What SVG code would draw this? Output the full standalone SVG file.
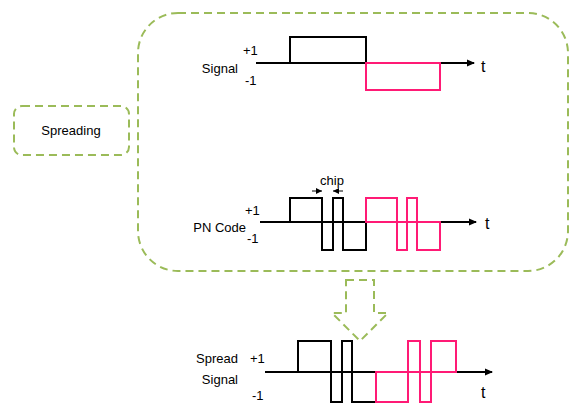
<svg xmlns="http://www.w3.org/2000/svg" width="570" height="403" viewBox="0 0 570 403">
<style>
.dash{fill:none;stroke:#9BBB59;stroke-width:2;stroke-dasharray:8,5}
.ax{fill:none;stroke:#000;stroke-width:2}
.bk{fill:none;stroke:#000;stroke-width:2}
.pk{fill:none;stroke:#FF1A75;stroke-width:2}
text{font-family:"Liberation Sans",Arial,sans-serif;font-size:13px;fill:#000}
.t{font-size:16px}
</style>
<defs>
<marker id="ah" markerWidth="8" markerHeight="8" refX="7" refY="4" orient="auto" markerUnits="userSpaceOnUse">
<path d="M0,0.5 L8,4 L0,7.5 Z" fill="#000"/>
</marker>
<marker id="sa" markerWidth="6" markerHeight="6" refX="6" refY="3" orient="auto" markerUnits="userSpaceOnUse">
<path d="M0,0 L6,3 L0,6 Z" fill="#000"/>
</marker>
</defs>
<g id="spreading-box">
<rect class="dash" x="138" y="13" width="430" height="258" rx="40" ry="40"/>
</g>
<g id="spreading-label">
<rect class="dash" x="14" y="106" width="115" height="49" rx="8" ry="8"/>
<text x="71" y="135" text-anchor="middle">Spreading</text>
</g>
<g id="signal">
<text x="238" y="73" text-anchor="end">Signal</text>
<text x="243" y="55">+1</text>
<text x="245" y="85">-1</text>
<line class="ax" x1="256" y1="63" x2="474" y2="63" marker-end="url(#ah)"/>
<text class="t" x="481" y="72">t</text>
<path class="bk" d="M290,63 V37 H366 V63"/>
<path class="pk" d="M366,63 V90 H440 V63 Z"/>
</g>
<g id="pn-code">
<text x="246" y="232" text-anchor="end">PN Code</text>
<text x="245" y="215">+1</text>
<text x="247" y="243">-1</text>
<text x="332" y="185" text-anchor="middle">chip</text>
<line class="ax" x1="260" y1="222" x2="476" y2="222" marker-end="url(#ah)"/>
<text class="t" x="485" y="229">t</text>
<path class="bk" d="M290,222 V198 H322 V250 H333 V198 H343 V250 H366 V222"/>
<path class="pk" d="M366,222 V198 H397 V250 H407 V198 H417 V250 H440 V222 Z"/>
</g>
<g id="spread-signal">
<text x="238" y="363" text-anchor="end">Spread</text>
<text x="238" y="384" text-anchor="end">Signal</text>
<text x="250" y="363">+1</text>
<text x="252" y="400">-1</text>
<line class="ax" x1="265" y1="372" x2="492" y2="372" marker-end="url(#ah)"/>
<text class="t" x="481" y="398">t</text>
<path class="bk" d="M298,372 V341 H331 V402 H342 V341 H352 V402 H376"/>
<path class="pk" d="M376,372 V402 H408 V341 H420 V402 H431 V341 H456 V372 Z"/>
</g>
<g id="connectors">
<line x1="312" y1="191" x2="322" y2="191" stroke="#000" stroke-width="1" marker-end="url(#sa)"/>
<line x1="343" y1="191" x2="333" y2="191" stroke="#000" stroke-width="1" marker-end="url(#sa)"/>
<path class="dash" d="M346,280 H374 V313 H388 L360,341 L332,313 H346 Z"/>
</g>
</svg>
